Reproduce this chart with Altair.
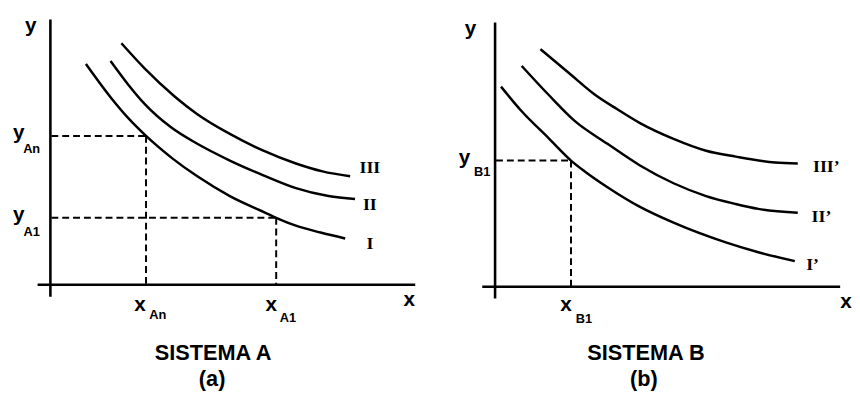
import altair as alt
import pandas as pd

# ---------------- Panel A : SISTEMA A ----------------
# curves (x, y) (units: axis units)
a_I_x = [36, 62, 79, 97, 124, 149, 182, 216, 229, 249, 274, 299]
a_I_y = [224, 189, 169, 151, 128, 110, 90, 74, 68, 60, 53, 47]
a_II_x = [61, 79, 96, 122, 149, 182, 216, 249, 282, 309]
a_II_y = [227, 203, 183, 160, 143, 126, 111, 98, 90, 87]
a_III_x = [72, 96, 126, 149, 182, 216, 249, 276, 304]
a_III_y = [245, 219, 191, 173, 153, 136, 123, 115, 110]

# reference points
xAn, yAn = 97, 151
xA1, yA1 = 229, 68

# ---------------- Panel B : SISTEMA B ----------------
b_I_x = [6, 27, 54, 77, 91, 114, 147, 181, 234, 267, 304]
b_I_y = [203, 178, 151, 128, 117, 101, 81, 65, 45, 35, 26]
b_II_x = [27, 54, 81, 114, 147, 181, 214, 244, 267, 307]
b_II_y = [224, 195, 168, 145, 123, 105, 92, 84, 79, 75]
b_III_x = [46, 77, 101, 124, 147, 181, 214, 244, 284, 307]
b_III_y = [241, 215, 195, 180, 166, 150, 138, 132, 126, 125]

xB1, yB1 = 77, 128

FONT_SANS = "Liberation Sans"
FONT_SERIF = "Liberation Serif"


def curves_df(curves):
    rows = []
    for name, xs, ys in curves:
        for i, (x, y) in enumerate(zip(xs, ys)):
            rows.append({"curve": name, "x": x, "y": y, "order": i})
    return pd.DataFrame(rows)


def panel(curves, axes, dashed, big, subs, romans, title, sub, dom_x, dom_y, w, h):
    xs = alt.Scale(domain=dom_x, zero=False, nice=False)
    ys = alt.Scale(domain=dom_y, zero=False, nice=False)
    X = lambda f: alt.X(f, type="quantitative", scale=xs, axis=None)
    Y = lambda f: alt.Y(f, type="quantitative", scale=ys, axis=None)

    layers = []
    ax = pd.DataFrame(axes, columns=["x", "x2", "y", "y2"])
    layers.append(
        alt.Chart(ax).mark_rule(color="black", strokeWidth=2.6).encode(
            x=X("x"), x2="x2", y=Y("y"), y2="y2"
        )
    )
    dd = pd.DataFrame(dashed, columns=["x", "x2", "y", "y2"])
    layers.append(
        alt.Chart(dd).mark_rule(color="black", strokeWidth=2, strokeDash=[7, 4]).encode(
            x=X("x"), x2="x2", y=Y("y"), y2="y2"
        )
    )
    cd = curves_df(curves)
    layers.append(
        alt.Chart(cd).mark_line(color="black", strokeWidth=2.5, interpolate="monotone").encode(
            x=X("x"), y=Y("y"), detail="curve:N", order="order:Q"
        )
    )
    bd = pd.DataFrame(big, columns=["x", "y", "t"])
    layers.append(
        alt.Chart(bd).mark_text(font=FONT_SANS, fontSize=21, fontWeight="bold",
                                baseline="alphabetic", align="center", color="black").encode(
            x=X("x"), y=Y("y"), text="t:N"
        )
    )
    sd = pd.DataFrame(subs, columns=["x", "y", "t"])
    layers.append(
        alt.Chart(sd).mark_text(font=FONT_SANS, fontSize=13, fontWeight="bold",
                                baseline="alphabetic", align="center", color="black").encode(
            x=X("x"), y=Y("y"), text="t:N"
        )
    )
    rd = pd.DataFrame(romans, columns=["x", "y", "t"])
    layers.append(
        alt.Chart(rd).mark_text(font=FONT_SERIF, fontSize=18, fontWeight="bold",
                                baseline="alphabetic", align="center", color="black").encode(
            x=X("x"), y=Y("y"), text="t:N"
        )
    )
    td = pd.DataFrame([title, sub], columns=["x", "y", "t"])
    layers.append(
        alt.Chart(td).mark_text(font=FONT_SANS, fontSize=22, fontWeight="bold",
                                baseline="alphabetic", align="center", color="black").encode(
            x=X("x"), y=Y("y"), text="t:N"
        )
    )
    return alt.layer(*layers).properties(width=w, height=h)


panel_a = panel(
    curves=[("I", a_I_x, a_I_y), ("II", a_II_x, a_II_y), ("III", a_III_x, a_III_y)],
    axes=[(-13, 370, 0, 0), (0, 0, -12, 269)],
    dashed=[(1, xAn, yAn, yAn), (xAn, xAn, yAn, 0), (1, xA1, yA1, yA1), (xA1, xA1, yA1, 0)],
    big=[(-20, 256, "y"), (-32, 148, "y"), (-32, 65, "y"),
         (91, -27, "x"), (224, -27, "x"), (364, -22, "x")],
    subs=[(-19, 134, "An"), (-19, 49, "A1"), (109, -35, "An"), (241, -38, "A1")],
    romans=[(324, 113, "III"), (324, 76, "II"), (324, 36, "I")],
    title=(165, -76, "SISTEMA A"),
    sub=(164, -103, "(a)"),
    dom_x=[-43, 372], dom_y=[-104, 278], w=415, h=382,
)

panel_b = panel(
    curves=[("I'", b_I_x, b_I_y), ("II'", b_II_x, b_II_y), ("III'", b_III_x, b_III_y)],
    axes=[(-13, 350, 0, 0), (0, 0, -12, 268)],
    dashed=[(1, xB1, yB1, yB1), (xB1, xB1, yB1, 0)],
    big=[(-25, 255, "y"), (-31, 125, "y"), (72, -25, "x"), (356, -22, "x")],
    subs=[(-13, 112, "B1"), (90, -37, "B1")],
    romans=[(336, 116, "III\u2019"), (331, 66, "II\u2019"), (322, 17, "I\u2019")],
    title=(153, -74, "SISTEMA B"),
    sub=(151, -101, "(b)"),
    dom_x=[-68, 350], dom_y=[-102, 280], w=418, h=382,
)

chart = (
    alt.hconcat(panel_a, panel_b, spacing=11)
    .properties(padding=0, background="white")
    .configure_view(stroke=None)
)

chart.save("out.html", embed_options={"renderer": "svg", "actions": False})
